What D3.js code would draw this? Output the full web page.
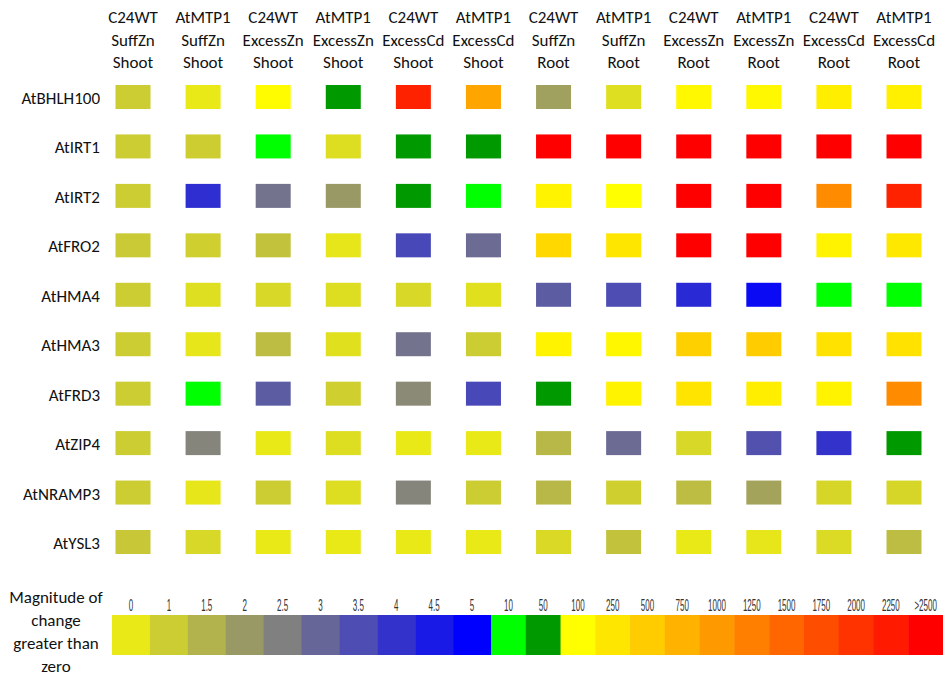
<!DOCTYPE html>
<html>
<head>
<meta charset="utf-8">
<script src="https://cdn.jsdelivr.net/npm/d3@7"></script>
<style>
  html, body { margin: 0; padding: 0; background: #fff; }
  svg { display: block; }
</style>
</head>
<body>
<svg id="chart" width="943" height="677"></svg>
<script>
// Genes (rows)
const genes = ["AtBHLH100", "AtIRT1", "AtIRT2", "AtFRO2", "AtHMA4",
               "AtHMA3", "AtFRD3", "AtZIP4", "AtNRAMP3", "AtYSL3"];

// Sample columns: genotype / treatment / tissue
const genotypes  = ["C24WT", "AtMTP1", "C24WT", "AtMTP1", "C24WT", "AtMTP1",
                    "C24WT", "AtMTP1", "C24WT", "AtMTP1", "C24WT", "AtMTP1"];
const treatments = ["SuffZn", "SuffZn", "ExcessZn", "ExcessZn", "ExcessCd", "ExcessCd",
                    "SuffZn", "SuffZn", "ExcessZn", "ExcessZn", "ExcessCd", "ExcessCd"];
const tissues    = ["Shoot", "Shoot", "Shoot", "Shoot", "Shoot", "Shoot",
                    "Root", "Root", "Root", "Root", "Root", "Root"];

// Magnitude of change, one row per gene, one value per sample column
const magnitude = [
  [1.0, 0.0, 120, 50, 2170, 885, 1.85, 0.35, 140, 140, 200, 190],   // AtBHLH100
  [1.0, 0.95, 10, 0.4, 50, 50, 2500, 2500, 2500, 2500, 2500, 2500], // AtIRT1
  [1.0, 4.1, 2.75, 2.0, 50, 10, 175, 100, 2500, 2500, 1130, 2170],  // AtIRT2
  [1.05, 0.9, 1.2, 0.1, 3.6, 2.9, 385, 250, 2500, 2500, 175, 240],  // AtFRO2
  [1.0, 0.35, 0.6, 0.4, 0.6, 0.3, 3.2, 3.5, 4.2, 4.8, 10, 10],      // AtHMA4
  [1.0, 0.1, 1.3, 0.3, 2.75, 1.0, 175, 150, 460, 500, 290, 290],    // AtHMA3
  [1.0, 10, 3.2, 0.9, 2.3, 3.6, 50, 175, 270, 200, 170, 1130],      // AtFRD3
  [1.0, 2.4, 0.0, 0.4, 0.0, 0.0, 1.4, 2.9, 0.6, 3.4, 4.0, 50],      // AtZIP4
  [1.0, 0.1, 1.0, 0.4, 2.4, 1.0, 1.4, 0.9, 1.3, 1.8, 0.65, 0.65],   // AtNRAMP3
  [1.1, 0.6, 0.0, 0.0, 0.0, 0.0, 0.55, 1.2, 0.0, 0.1, 0.5, 1.3]     // AtYSL3
];

// Colour key
const legendLabels = ["0", "1", "1.5", "2", "2.5", "3", "3.5", "4", "4.5", "5", "10", "50",
                      "100", "250", "500", "750", "1000", "1250", "1500", "1750", "2000", "2250", ">2500"];
const legendValues = [0, 1, 1.5, 2, 2.5, 3, 3.5, 4, 4.5, 5, 10, 50,
                      100, 250, 500, 750, 1000, 1250, 1500, 1750, 2000, 2250, 2500];
const legendColors = ["#e9e917", "#cccc33", "#b3b34d", "#999966", "#808080", "#666699",
                      "#4d4db3", "#3333cc", "#1a1ae6", "#0000ff", "#00ff00", "#009900",
                      "#ffff00", "#ffe600", "#ffcc00", "#ffb300", "#ff9900", "#ff8000",
                      "#ff6600", "#ff4d00", "#ff3300", "#ff1a00", "#ff0000"];
const legendTitle = ["Magnitude of", "change", "greater than", "zero"];

const svg = d3.select("#chart");
const FONT = "Carlito, Lato, 'Open Sans', sans-serif";

const color = d3.scaleLinear()
  .domain(legendValues)
  .range(legendColors)
  .interpolate(d3.interpolateRgb)
  .clamp(true);

const cols = d3.range(genotypes.length);
const x = d3.scalePoint().domain(cols).range([133, 904]);
const y = d3.scalePoint().domain(genes).range([97, 542]);

const cellW = 35, cellH = 24;

// Column headers (three lines each)
const header = svg.append("g").attr("font-family", FONT).attr("font-size", 17)
  .attr("fill", "#111").attr("text-anchor", "middle");
cols.forEach(i => {
  [genotypes[i], treatments[i], tissues[i]].forEach((t, k) => {
    header.append("text")
      .attr("x", x(i))
      .attr("y", 23 + k * 22.5)
      .text(t);
  });
});

// Row labels
svg.append("g").attr("font-family", FONT).attr("font-size", 17)
  .attr("fill", "#111").attr("text-anchor", "end")
  .selectAll("text").data(genes).join("text")
  .attr("x", 100)
  .attr("y", d => y(d) + 7)
  .text(d => d);

// Cells
const cells = genes.flatMap((g, r) => magnitude[r].map((v, c) => ({ gene: g, col: c, value: v })));
svg.append("g").selectAll("rect").data(cells).join("rect")
  .attr("x", d => x(d.col) - cellW / 2)
  .attr("y", d => y(d.gene) - cellH / 2)
  .attr("width", cellW)
  .attr("height", cellH)
  .attr("fill", d => color(d.value));

// Colour key: two segments of equal-width blocks
const lowerKeys = legendLabels.slice(0, 10);
const upperKeys = legendLabels.slice(10);
const bandLow = d3.scaleBand().domain(lowerKeys).range([112, 491]).paddingInner(0).paddingOuter(0);
const bandHigh = d3.scaleBand().domain(upperKeys).range([491, 943]).paddingInner(0).paddingOuter(0);
const keyX = k => lowerKeys.includes(k) ? bandLow(k) : bandHigh(k);
const keyW = k => lowerKeys.includes(k) ? bandLow.bandwidth() : bandHigh.bandwidth();

const key = svg.append("g");
key.selectAll("rect").data(legendLabels).join("rect")
  .attr("x", d => keyX(d))
  .attr("y", 615)
  .attr("width", d => keyW(d) + 0.5)
  .attr("height", 40)
  .attr("fill", (d, i) => color(legendValues[i]));

key.selectAll("text").data(legendLabels).join("text")
  .attr("transform", d => `translate(${keyX(d) + keyW(d) / 2},611) scale(0.5,1)`)
  .attr("text-anchor", "middle")
  .attr("font-family", "'Liberation Sans', Arial, sans-serif")
  .attr("font-size", 16)
  .attr("fill", "#333")
  .text(d => d);

// Key title
svg.append("g").attr("font-family", FONT).attr("font-size", 17)
  .attr("fill", "#111").attr("text-anchor", "middle")
  .selectAll("text").data(legendTitle).join("text")
  .attr("x", 56)
  .attr("y", (d, i) => 603 + i * 23)
  .text(d => d);
</script>
</body>
</html>
